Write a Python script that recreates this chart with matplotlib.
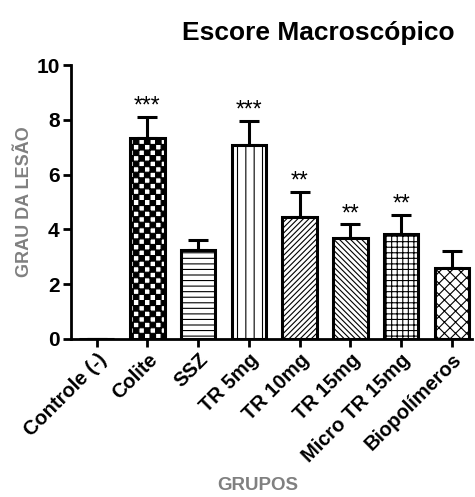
import warnings
import numpy as np
import matplotlib
matplotlib.use("Agg")
import matplotlib.pyplot as plt
import matplotlib.hatch as mhatch
import matplotlib.transforms as mtransforms

warnings.filterwarnings("ignore")

groups = ['Controle (-)', 'Colite', 'SSZ', 'TR 5mg', 'TR 10mg', 'TR 15mg',
          'Micro TR 15mg', 'Biopolímeros']
means = [0.0, 7.35, 3.25, 7.1, 4.45, 3.7, 3.82, 2.6]
errors = [0.0, 0.75, 0.38, 0.85, 0.9, 0.48, 0.72, 0.62]
signif = ['', '***', '', '***', '**', '**', '**', '']
hatches = ['', 'ccc', '---', '||', '//////', '\\\\\\\\\\\\', '+++', 'xxx']


# checkerboard hatch (not built into matplotlib)
class CheckerHatch(mhatch.HatchPatternBase):
    filled = True

    def __init__(self, hatch, density):
        n = hatch.count('c') * density
        self.n = n + (n % 2)
        self.num_vertices = 5 * (self.n * self.n // 2) if n else 0

    def set_vertices_and_codes(self, vertices, codes):
        s = 1.0 / self.n
        k = 0
        for i in range(self.n):
            for j in range(self.n):
                if (i + j) % 2:
                    continue
                x0, y0 = i * s, j * s
                vertices[k:k + 5] = [[x0, y0], [x0 + s, y0], [x0 + s, y0 + s],
                                     [x0, y0 + s], [x0, y0]]
                codes[k] = mhatch.Path.MOVETO
                codes[k + 1:k + 4] = mhatch.Path.LINETO
                codes[k + 4] = mhatch.Path.CLOSEPOLY
                k += 5


mhatch._hatch_types.append(CheckerHatch)

plt.rcParams['font.family'] = ['Liberation Sans', 'DejaVu Sans']
plt.rcParams['hatch.linewidth'] = 0.8
plt.rcParams['hatch.color'] = 'black'

fig = plt.figure(figsize=(4.75, 4.97), dpi=100)
ax = fig.add_axes([0.149, 0.318, 0.845, 0.551])

x = np.arange(len(groups))
bars = ax.bar(x, means, width=0.68, color='white', edgecolor='black',
              linewidth=2.2, zorder=3)
for b, h in zip(bars, hatches):
    b.set_hatch(h)

ax.errorbar(x, means, yerr=[np.zeros(len(errors)), errors], fmt='none',
            ecolor='black', elinewidth=2.2, capsize=7, capthick=2.2, zorder=2)

for xi, m, e, s in zip(x, means, errors, signif):
    if s:
        ax.text(xi, m + e - 0.02, s, ha='center', va='bottom', fontsize=16.5)

ax.set_xlim(-0.51, 7.4)
ax.set_ylim(0, 10)
ax.set_yticks([0, 2, 4, 6, 8, 10])
ax.set_xticks(x)
ax.set_xticklabels(groups, rotation=45, ha='right', rotation_mode='anchor',
                   fontsize=14.5, fontweight='bold')
shift = mtransforms.ScaledTranslation(-0.03, -0.13, fig.dpi_scale_trans)
for lab in ax.get_xticklabels():
    lab.set_transform(lab.get_transform() + shift)
for lab in ax.get_yticklabels():
    lab.set_fontweight('bold')
    lab.set_fontsize(15)

for side in ['top', 'right']:
    ax.spines[side].set_visible(False)
for side in ['left', 'bottom']:
    ax.spines[side].set_linewidth(2)
ax.tick_params(axis='both', width=2, length=6, pad=2)

ax.set_ylabel('GRAU DA LESÃO', fontsize=13, fontweight='bold', color='#808080')
ax.yaxis.set_label_coords(-0.095, 0.5)
ax.set_xlabel('GRUPOS', fontsize=13.5, fontweight='bold', color='#808080')
ax.xaxis.set_label_coords(0.466, -0.505)

fig.text(318 / 475, 1 - 33 / 497, 'Escore Macroscópico', ha='center',
         va='center', fontsize=19, fontweight='bold')

fig.savefig('out.png', dpi=100)
